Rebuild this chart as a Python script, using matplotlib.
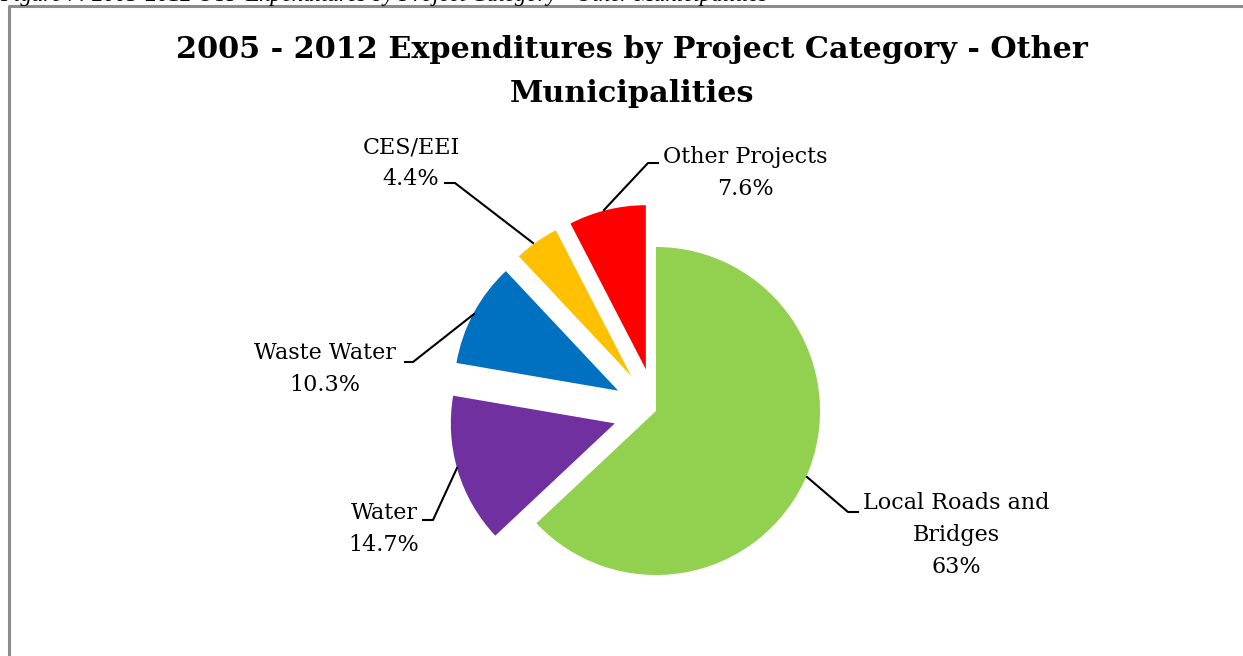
#imports used
import matplotlib.pyplot as plt

#data
categories = ["Local Roads and\nBridges", "Water", "Waste Water", "CES/EEI", "Other Projects"]
shares = [63.0, 14.7, 10.3, 4.4, 7.6]
pct_labels = ["63%", "14.7%", "10.3%", "4.4%", "7.6%"]
colors = ["#92D050", "#7030A0", "#0070C0", "#FFC000", "#FF0000"]
#explode offset in pixels (matplotlib uses absolute units here)
explode = [0, 43, 43, 43, 43]

W, H = 1243, 656
fig = plt.figure(figsize=(W / 100, H / 100), dpi=100)
ax = fig.add_axes([0, 0, 1, 1])

#pixel helper, y measured from the top
def Y(y):
    return H - y

ax.pie(shares, colors=colors, explode=explode, startangle=90, counterclock=False,
       radius=164, center=(656, Y(411)), wedgeprops=dict(linewidth=0))
ax.set_xlim(0, W)
ax.set_ylim(0, H)
ax.set_aspect("auto")
ax.axis("off")

font = "DejaVu Serif"

#title
ax.text(632, Y(50), "2005 - 2012 Expenditures by Project Category - Other", ha="center", va="center",
        fontsize=21.8, fontweight="bold", family=font)
ax.text(632, Y(93), "Municipalities", ha="center", va="center",
        fontsize=21.8, fontweight="bold", family=font)

#labels and leader lines (pixel positions)
label_pos = [(956, 503), (384, 513), (325, 353), (411, 147), (745, 157)]
leaders = [
    [(858, 512), (848, 512), (807, 477)],
    [(423, 520), (433, 520), (457, 468)],
    [(405, 362), (413, 362), (474, 314)],
    [(445, 183), (455, 183), (533, 243)],
    [(658, 163), (648, 163), (604, 210)],
]
for i in range(len(categories)):
    x, y = label_pos[i]
    txt = categories[i] + "\n" + pct_labels[i]
    ax.text(x, Y(y - 11), txt, ha="center", va="top", fontsize=16.0, family=font,
            linespacing=1.6)
    xs = [p[0] for p in leaders[i]]
    ys = [Y(p[1]) for p in leaders[i]]
    ax.plot(xs, ys, color="black", linewidth=1.5)

#chart border
ax.plot([9, 9, W + 5], [-5, Y(6), Y(6)], color="#8c8c8c", linewidth=2.2, clip_on=False)

#clipped document caption above the chart
ax.text(0, Y(1), "Figure 7: 2005-2012 OTP Expenditures by Project Category - Other Municipalities",
        ha="left", va="baseline", fontsize=16.5, style="italic", family="Liberation Serif")

plt.savefig("out.png", dpi=100)
